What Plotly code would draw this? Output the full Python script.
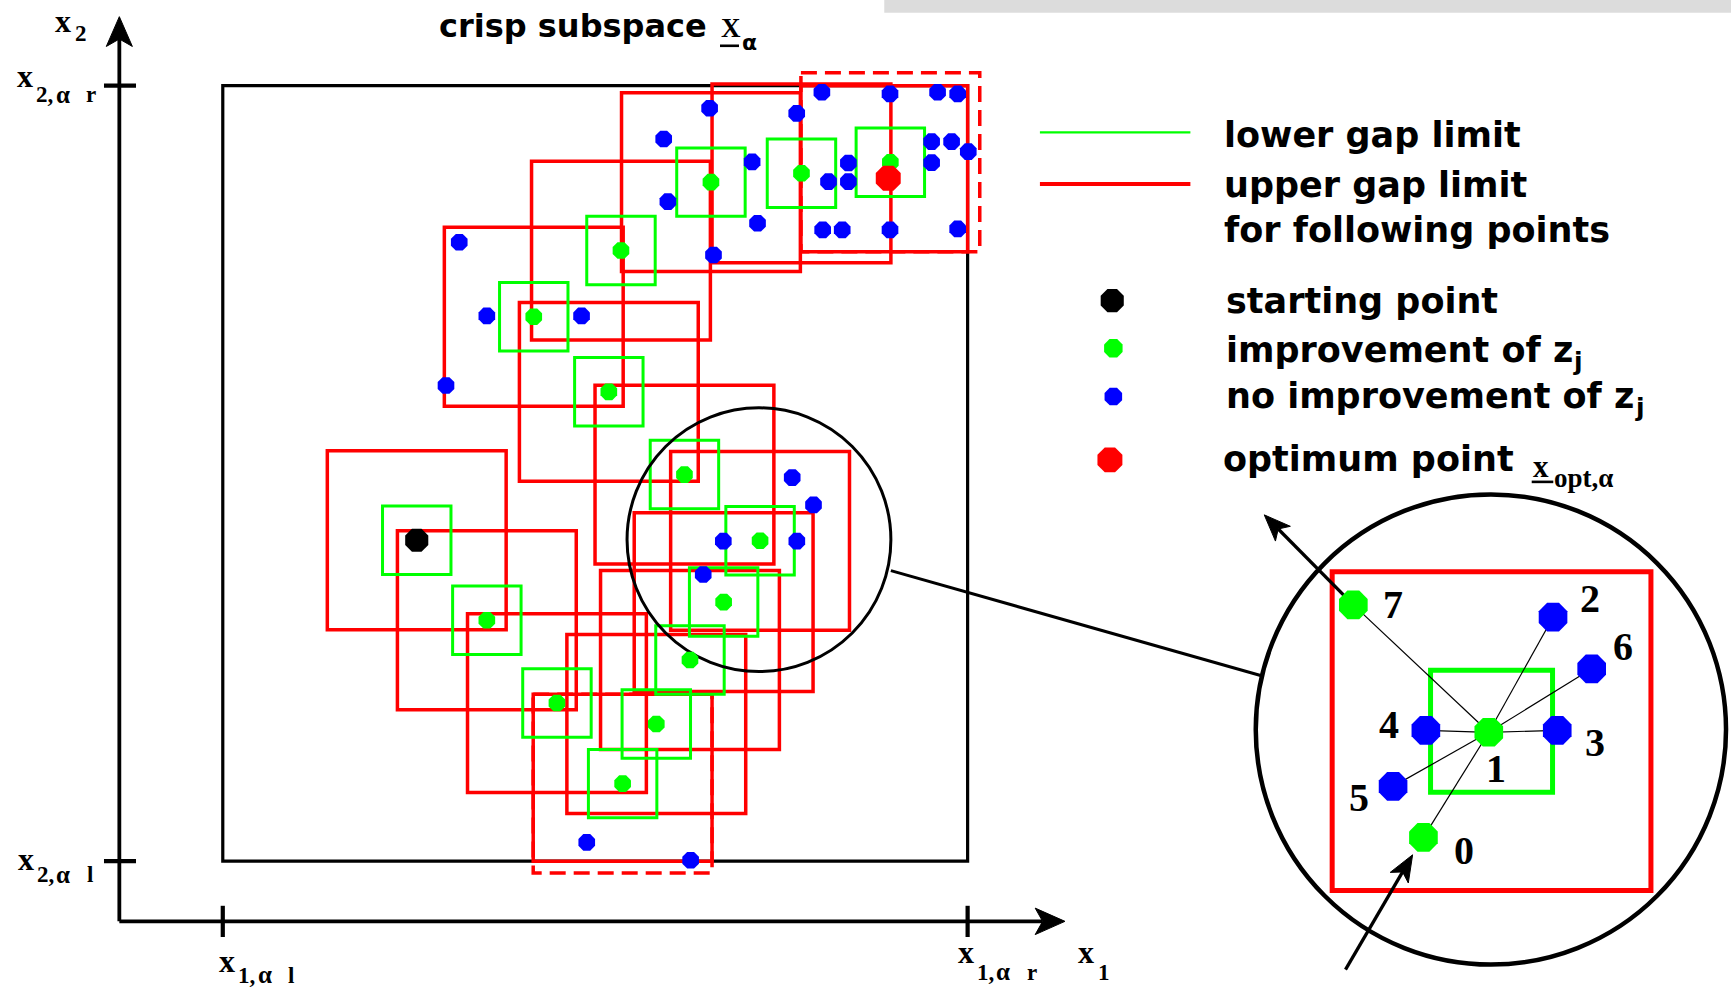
import math
import plotly.graph_objects as go

# Drawing units: a 1568 x 897 canvas rendered into a 1731 x 990 page.
W_UNITS, H_UNITS = 1568, 897
W_PX, H_PX = 1731, 990
K = W_PX / W_UNITS  # page pixels per drawing unit

RED, GREEN, BLUE, BLACK = "#ff0000", "#00ff00", "#0000ff", "#000000"
SANS = "DejaVu Sans"
SERIF = "Liberation Serif"

# ---------------------------------------------------------------- data
# crisp subspace bounds (x1 left/right, x2 upper/lower as screen y)
x1_lo, x1_hi = 201.8, 876.5
x2_hi, x2_lo = 77.6, 780.3

# search path: starting point followed by every improving point
start_x, start_y = 377.5, 489.5
improve_x = [441.0, 504.5, 564.0, 594.5, 625.0, 655.5, 688.5, 620.0,
             551.5, 483.5, 562.5, 644.0, 726.0, 806.5]
improve_y = [562.0, 637.0, 710.0, 656.0, 598.0, 545.5, 490.0, 430.0,
             355.0, 287.0, 227.0, 165.0, 157.0, 147.0]

# trial points that gave no improvement
no_improve_x = [744.5, 806.2, 849.3, 867.5, 642.8, 721.7, 601.2, 843.9, 862.0,
                877.1, 681.3, 768.5, 843.9, 750.5, 768.5, 605.0, 686.2, 745.2,
                762.9, 806.2, 867.5, 646.3, 416.0, 441.0, 526.8, 404.0, 717.6,
                736.9, 655.2, 721.8, 637.0, 531.5, 625.6]
no_improve_y = [83.6, 85.1, 83.6, 85.1, 98.1, 102.7, 125.9, 128.3, 128.3,
                137.4, 146.7, 147.7, 147.4, 164.6, 164.6, 182.7, 202.3, 208.3,
                208.3, 208.3, 207.4, 231.0, 219.5, 286.2, 286.2, 349.3, 432.7,
                457.5, 490.3, 490.3, 520.5, 763.2, 779.4]

optimum_x, optimum_y = 804.6, 161.5

# magnified neighbourhood: trial points 0..7 around point 1
inset_labels = ["0", "1", "2", "3", "4", "5", "6", "7"]
inset_x = [1289.4, 1348.6, 1406.8, 1410.6, 1291.6, 1261.9, 1441.8, 1225.9]
inset_y = [758.7, 663.5, 559.2, 661.8, 661.8, 712.5, 606.0, 548.0]
inset_improved = [True, True, False, False, False, False, False, True]

legend_lines = ["lower gap limit", "upper gap limit"]
legend_points = ["starting point", "improvement of z",
                 "no improvement of z", "optimum point"]

# ---------------------------------------------------------------- layout constants
GREEN_HALF = 31.0   # half side of a lower-gap box
RED_HALF = 81.0     # half side of an upper-gap box
TOL = 4.0

fig = go.Figure()
shapes = []


def seg(x0, y0, x1, y1, color=BLACK, width=3.0, dash=None):
    line = dict(color=color, width=width)
    if dash:
        line["dash"] = dash
    shapes.append(dict(type="line", x0=x0, y0=y0, x1=x1, y1=y1,
                       xref="x", yref="y", line=line, layer="below"))


def rect(x0, y0, x1, y1, color, width, dash=None):
    line = dict(color=color, width=width)
    if dash:
        line["dash"] = dash
    shapes.append(dict(type="rect", x0=x0, y0=y0, x1=x1, y1=y1,
                       xref="x", yref="y", line=line,
                       fillcolor="rgba(0,0,0,0)", layer="below"))


def circle(cx, cy, r, width):
    shapes.append(dict(type="circle", x0=cx - r, y0=cy - r, x1=cx + r, y1=cy + r,
                       xref="x", yref="y", line=dict(color=BLACK, width=width),
                       fillcolor="rgba(0,0,0,0)", layer="below"))


def arrow(tail, tip, length, half_w, width):
    """Shaft from tail to tip with a barbed filled head."""
    dx, dy = tip[0] - tail[0], tip[1] - tail[1]
    n = math.hypot(dx, dy)
    ux, uy = dx / n, dy / n
    px, py = -uy, ux
    bx, by = tip[0] - ux * length, tip[1] - uy * length
    nx, ny = tip[0] - ux * length * 0.75, tip[1] - uy * length * 0.75
    seg(tail[0], tail[1], nx, ny, width=width)
    path = (f"M {tip[0]:.2f},{tip[1]:.2f} "
            f"L {bx + px * half_w:.2f},{by + py * half_w:.2f} "
            f"L {nx:.2f},{ny:.2f} "
            f"L {bx - px * half_w:.2f},{by - py * half_w:.2f} Z")
    shapes.append(dict(type="path", path=path, xref="x", yref="y",
                       fillcolor=BLACK, line=dict(color=BLACK, width=1),
                       layer="below"))


def text(x_px, base_px, s, size, family=SANS, anchor="left"):
    """Place text by its left edge and baseline, given in page pixels."""
    c = 0.3375 if family == SERIF else 0.346
    fig.add_annotation(x=x_px / K, y=(base_px - c * size) / K, text=s,
                       showarrow=False, xanchor=anchor, yanchor="middle",
                       borderpad=0,
                       font=dict(family=family, size=size, color=BLACK,
                                 weight="bold"))


def axis_label(x_px, base_px, sub_base_px, digit, bound=None):
    """Serif axis label x with a subscript digit and optional alpha bound."""
    text(x_px, base_px, "x", 32, SERIF)
    if bound is None:
        text(x_px + 20.0, sub_base_px, digit, 23, SERIF)
    else:
        text(x_px + 19.0, sub_base_px, digit + ",", 23, SERIF)
        text(x_px + 38.5, sub_base_px, "α", 25, SERIF)
        text(x_px + 69.0, sub_base_px, bound, 23, SERIF)


# grey strip along the top edge
shapes.append(dict(type="rect", x0=801, y0=0, x1=W_UNITS, y1=11.5, xref="x",
                   yref="y", line=dict(width=0), fillcolor="#dcdcdc",
                   layer="below"))

# coordinate axes with bound ticks
axis_x0, axis_y0 = 108.1, 834.8
arrow((axis_x0, axis_y0), (axis_x0, 15.1), 27, 11.8, 3.8)
arrow((axis_x0, axis_y0), (964.7, axis_y0), 27, 12.0, 3.8)
for yv in (x2_hi, x2_lo):
    seg(94.2, yv, 123.2, yv, width=4.2)
for xv in (x1_lo, x1_hi):
    seg(xv, 820.7, xv, 849.0, width=4.2)

# crisp subspace
rect(x1_lo, x2_hi, x1_hi, x2_lo, BLACK, 3.2)

path_x = [start_x] + improve_x
path_y = [start_y] + improve_y

# upper gap limits (red), dashed where they leave the subspace
for cx, cy in zip(path_x, path_y):
    bx0, bx1, by0, by1 = cx - RED_HALF, cx + RED_HALF, cy - RED_HALF, cy + RED_HALF
    outside = (bx0 < x1_lo - TOL or bx1 > x1_hi + TOL or
               by0 < x2_hi - TOL or by1 > x2_lo + TOL)
    if outside:
        rect(bx0, by0, bx1, by1, RED, 3.5, dash="16px,8px")
        rect(max(bx0, x1_lo), max(by0, x2_hi), min(bx1, x1_hi), min(by1, x2_lo),
             RED, 3.5)
    else:
        rect(bx0, by0, bx1, by1, RED, 3.5)

# lower gap limits (green)
for cx, cy in zip(path_x, path_y):
    rect(cx - GREEN_HALF, cy - GREEN_HALF, cx + GREEN_HALF, cy + GREEN_HALF,
         GREEN, 3.0)

# magnifier
small_c = (687.5, 489.0, 119.5)
big_c = (1350.5, 661.0, 213.0)
circle(*small_c, 3.0)
seg(807.0, 517.0, 1143.5, 612.5, width=3.0)
circle(*big_c, 4.5)

# magnified boxes around point 1
mag = big_c[2] / small_c[2]
icx, icy = inset_x[1] + 2.5, inset_y[1] - 1.0
rect(icx - RED_HALF * mag, icy - RED_HALF * mag, icx + RED_HALF * mag,
     icy + RED_HALF * mag, RED, 5.0)
rect(icx - GREEN_HALF * mag, icy - GREEN_HALF * mag, icx + GREEN_HALF * mag,
     icy + GREEN_HALF * mag, GREEN, 5.0)

# spokes from point 1 to the other trial points
for k in range(len(inset_x)):
    if k != 1:
        seg(inset_x[1], inset_y[1], inset_x[k], inset_y[k], width=1.2)

# arrows entering at point 0 and leaving from point 7
arrow((inset_x[7], inset_y[7]), (1145.2, 466.5), 24, 9.5, 3.3)
arrow((1218.8, 878.6), (1279.6, 774.5), 24, 9.5, 3.3)

# legend line samples
seg(942.0, 119.9, 1078.3, 119.9, GREEN, 2.2)
seg(942.0, 166.7, 1078.3, 166.7, RED, 4.0)

# underlines of the vector symbols
seg(720.0 / K, 45.8 / K, 739.0 / K, 45.8 / K, width=2.6)
seg(1531.7 / K, 482.0 / K, 1553.3 / K, 482.0 / K, width=2.6)

fig.update_layout(shapes=shapes)

# ---------------------------------------------------------------- markers


def dots(xs, ys, color, size):
    fig.add_trace(go.Scatter(x=xs, y=ys, mode="markers", hoverinfo="skip",
                             marker=dict(symbol="octagon", color=color,
                                         size=size, line=dict(width=0))))


dots(no_improve_x, no_improve_y, BLUE, 18)
dots(improve_x, improve_y, GREEN, 18)
dots([start_x], [start_y], BLACK, 25)
dots([optimum_x], [optimum_y], RED, 27)

ix_g = [x for x, g in zip(inset_x, inset_improved) if g]
iy_g = [y for y, g in zip(inset_y, inset_improved) if g]
ix_b = [x for x, g in zip(inset_x, inset_improved) if not g]
iy_b = [y for y, g in zip(inset_y, inset_improved) if not g]
dots(ix_b, iy_b, BLUE, 31)
dots(ix_g, iy_g, GREEN, 31)

# legend symbols
dots([1007.5], [272.4], BLACK, 25)
dots([1008.5], [315.5], GREEN, 20)
dots([1008.5], [359.3], BLUE, 19)
dots([1005.4], [416.7], RED, 27)

# ---------------------------------------------------------------- text
# numbers of the trial points in the magnifier
label_dx = [36.8, 6.7, 33.5, 34.6, -33.8, -30.8, 28.6, 35.9]
label_dy = [12.1, 32.4, -16.6, 10.6, -5.4, 10.3, -20.2, 0.0]
for lab, x, y, dx, dy in zip(inset_labels, inset_x, inset_y, label_dx, label_dy):
    fig.add_annotation(x=x + dx, y=y + dy, text=lab, showarrow=False,
                       xanchor="center", yanchor="middle", borderpad=0,
                       font=dict(family=SERIF, size=40, color=BLACK,
                                 weight="bold"))

# title
text(438.3, 37.3, "crisp subspace", 32)
text(720.0, 37.3, "X", 27, SERIF)
text(740.7, 50.0, "α", 22)

# axis labels
axis_label(54.0, 31.7, 41.7, "2")
axis_label(16.0, 87.3, 102.7, "2", "r")
axis_label(16.7, 870.0, 882.7, "2", "l")
axis_label(218.3, 971.7, 983.3, "1", "l")
axis_label(956.7, 963.3, 980.0, "1", "r")
axis_label(1076.7, 963.3, 980.0, "1")

# legend text
text(1223.3, 146.7, legend_lines[0], 35)
text(1223.3, 196.7, legend_lines[1], 35)
text(1223.3, 241.7, "for following points", 35)
text(1225.0, 313.3, legend_points[0], 35)
text(1225.0, 361.7, legend_points[1], 35)
text(1572.0, 370.0, "j", 25)
text(1225.0, 408.3, legend_points[2], 35)
text(1634.0, 416.5, "j", 25)
text(1221.7, 471.7, legend_points[3], 35)
text(1531.7, 476.7, "x", 31, SERIF)
text(1553.0, 487.0, "opt,α", 27, SERIF)

fig.update_layout(
    width=W_PX, height=H_PX,
    margin=dict(l=0, r=0, t=0, b=0, pad=0),
    paper_bgcolor="white", plot_bgcolor="white",
    showlegend=False,
    xaxis=dict(range=[0, W_UNITS], visible=False, fixedrange=True),
    yaxis=dict(range=[H_UNITS, 0], visible=False, fixedrange=True),
)

fig.write_html("out.html")
